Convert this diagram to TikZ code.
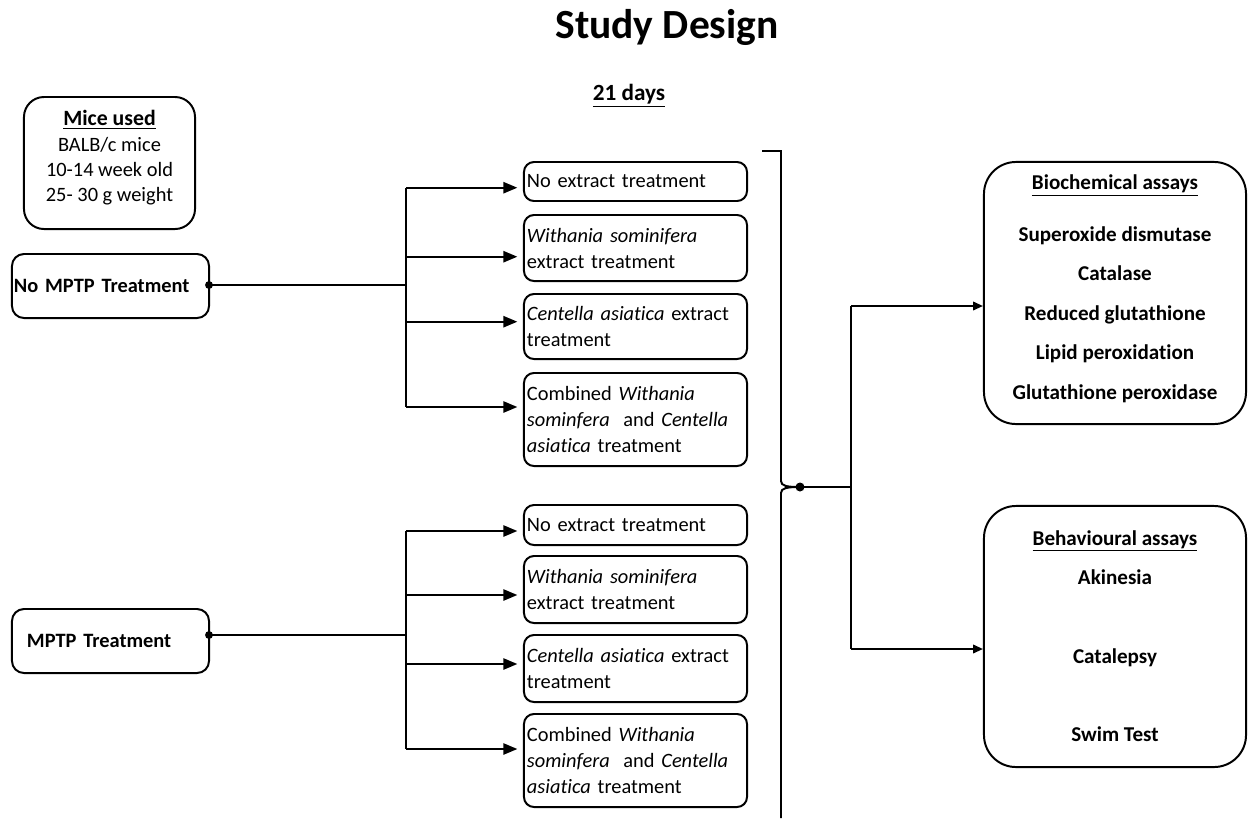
\documentclass[tikz,border=0pt]{standalone}
\usepackage{fontspec}
\setmainfont{Carlito}[Ligatures=NoCommon]
\usetikzlibrary{arrows.meta}

\begin{document}
\begin{tikzpicture}[x=0.025cm, y=-0.025cm, line width=1.4pt,
    >={Triangle[length=10pt,width=8pt]},
    font=\fontsize{14.5pt}{18.5pt}\selectfont,
    tbox/.style={draw, rounded corners=0.25cm, minimum width=5.575cm,
                 text width=5.425cm, inner xsep=0.075cm, align=left},
    gbox/.style={draw, rounded corners=0.3cm, minimum width=4.925cm,
                 minimum height=1.6cm, align=left, font=\fontsize{14.5pt}{18.5pt}\selectfont\bfseries},
    abox/.style={draw, rounded corners=0.8cm, minimum width=6.55cm, minimum height=6.55cm},
    atext/.style={align=center, font=\fontsize{15pt}{18.5pt}\selectfont\bfseries},
    smallarr/.style={-{Triangle[length=7pt,width=6pt]}}]

\useasboundingbox (0,0) rectangle (1251,818);

% ============================
% Titles
% ============================
\node (title) at (667,27) {\fontsize{29.5pt}{32pt}\selectfont\bfseries Study Design};
\node (days)  at (629,96) {\fontsize{16.5pt}{20pt}\selectfont\bfseries\underline{21 days}};

% ============================
% Left column
% ============================
\node[draw, rounded corners=0.5cm, minimum width=4.275cm, minimum height=3.3cm] (mice) at (109.5,163) {};
\node[align=center, font=\fontsize{14.5pt}{18pt}\selectfont] (micetxt) at (109.5,158)
{\underline{\fontsize{15.5pt}{18pt}\selectfont\bfseries Mice used}\\ BALB/c mice\\ 10-14 week old\\ 25- 30 g weight};

\node[gbox, text width=4.825cm, inner xsep=0.05cm] (nompt) at (110.5,286) {No MPTP Treatment};
\node[gbox, text width=4.175cm, inner xsep=0.375cm] (mptp) at (110.5,641) {MPTP Treatment};

% ============================
% Treatment boxes (upper group)
% ============================
\node[tbox, minimum height=0.975cm] (nt1) at (635.5,181.5) {No extract treatment};
\node[tbox, minimum height=1.65cm]  (nt2) at (635.5,248) {\textit{Withania sominifera}\\ extract treatment};
\node[tbox, minimum height=1.625cm] (nt3) at (635.5,326.5) {\textit{Centella asiatica} extract\\ treatment};
\node[tbox, minimum height=2.325cm] (nt4) at (635.5,419.5)
{Combined \textit{Withania}\\ \textit{sominfera}~ and \textit{Centella}\\ \textit{asiatica} treatment};

% ============================
% Treatment boxes (lower group)
% ============================
\node[tbox, minimum height=1cm]     (mt1) at (635.5,525) {No extract treatment};
\node[tbox, minimum height=1.675cm] (mt2) at (635.5,589.5) {\textit{Withania sominifera}\\ extract treatment};
\node[tbox, minimum height=1.675cm] (mt3) at (635.5,668.5) {\textit{Centella asiatica} extract\\ treatment};
\node[tbox, minimum height=2.325cm] (mt4) at (635.5,760.5)
{Combined \textit{Withania}\\ \textit{sominfera}~ and \textit{Centella}\\ \textit{asiatica} treatment};

% ============================
% Assay boxes
% ============================
\node[abox] (bio) at (1115,293) {};
\node[atext] (biotxt) at (1115,289)
{\underline{Biochemical assays}\\[18.1pt] Superoxide dismutase\\[9.6pt] Catalase\\[9.6pt]
 Reduced glutathione\\[9.6pt] Lipid peroxidation\\[9.6pt] Glutathione peroxidase};

\node[abox, minimum height=6.525cm] (beh) at (1115,636.5) {};
\node[atext] (behtxt) at (1115,636)
{\underline{Behavioural assays}\\[9.6pt] Akinesia\\[37.7pt] Catalepsy\\[37pt] Swim Test};

% ============================
% Upper tree
% ============================
\coordinate (ndot) at (209,285);
\coordinate (nj) at (406,285);
\draw (ndot) -- (nj);
\fill (ndot) circle (2.8pt);
\foreach \i/\y in {1/187.7, 2/256.7, 3/321.7, 4/407}
    \coordinate (na\i) at (406,\y);
\draw (na1) -- (na4);
\foreach \i in {1,...,4}
    \draw[->, shorten >=4pt] (na\i) -- (na\i -| nt\i.west);

% ============================
% Lower tree
% ============================
\coordinate (mdot) at (209,635);
\coordinate (mj) at (406,635);
\draw (mdot) -- (mj);
\fill (mdot) circle (2.8pt);
\foreach \i/\y in {1/531, 2/595, 3/664, 4/749}
    \coordinate (ma\i) at (406,\y);
\draw (ma1) -- (ma4);
\foreach \i in {1,...,4}
    \draw[->, shorten >=4pt] (ma\i) -- (ma\i -| mt\i.west);

% ============================
% Bracket -> assays
% ============================
\coordinate (brtop) at (762,151);
\coordinate (brup)  at (781,481);
\coordinate (brlow) at (781,493);
\coordinate (brbot) at (781,818);
\coordinate (hub)   at (800,487);

\draw (brtop) -- (781,151) -- (brup) .. controls (781,486) and (787,487) .. (hub);
\draw (hub) .. controls (787,487) and (781,488) .. (brlow) -- (brbot);
\fill (hub) circle (3.2pt);

\coordinate (rj)  at (851,487);
\coordinate (rb1) at (851,306);
\coordinate (rb2) at (851,649);
\draw (hub) -- (rj);
\draw (rb1) -- (rb2);
\draw[smallarr] (rb1) -- (rb1 -| bio.west);
\draw[smallarr] (rb2) -- (rb2 -| beh.west);

\end{tikzpicture}
\end{document}
